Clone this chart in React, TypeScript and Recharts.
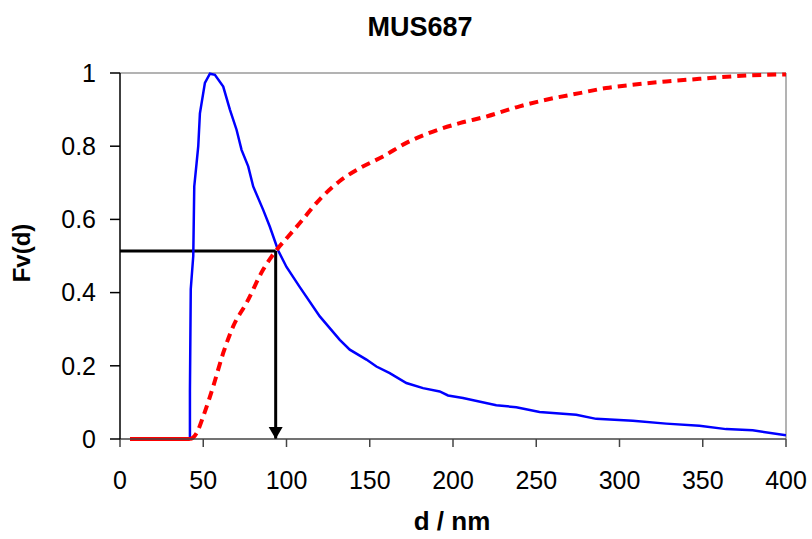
import { ComposedChart, Line, XAxis, YAxis, ReferenceLine } from "recharts";

// blue curve: normalised distribution
const BLUE_D = [42, 42, 42.5, 44, 44.6, 46, 47, 48, 51, 54, 57, 62, 66, 70, 73, 77, 80, 86, 90, 95, 100, 108, 120, 132, 138, 148, 154, 162, 172, 182, 192, 197, 206, 226, 238, 252, 274, 286, 308, 328, 348, 364, 380, 400];
const BLUE_F = [0, 0.13, 0.41, 0.5, 0.69, 0.754, 0.8, 0.89, 0.973, 0.998, 0.995, 0.963, 0.9, 0.845, 0.79, 0.745, 0.69, 0.626, 0.58, 0.515, 0.47, 0.415, 0.335, 0.271, 0.244, 0.217, 0.198, 0.18, 0.153, 0.139, 0.13, 0.119, 0.112, 0.092, 0.087, 0.074, 0.066, 0.055, 0.05, 0.042, 0.036, 0.027, 0.024, 0.01];

// red curve: cumulative Fv(d)
const RED_FLAT_D = [6, 42];
const RED_FLAT_F = [0, 0];
const RED_D = [42, 44, 46, 50, 56, 62, 68, 76, 86, 95, 100, 108, 120, 132, 144, 158, 172, 188, 204, 220, 240, 256, 276, 292, 308, 328, 348, 368, 388, 400];
const RED_F = [0, 0.004, 0.016, 0.062, 0.144, 0.235, 0.308, 0.372, 0.463, 0.522, 0.548, 0.59, 0.655, 0.705, 0.74, 0.772, 0.809, 0.84, 0.863, 0.881, 0.909, 0.927, 0.945, 0.959, 0.968, 0.977, 0.984, 0.991, 0.995, 0.996];

// median marker
const D50 = 93.5;
const F50 = 0.514;

const X_TICKS = [0, 50, 100, 150, 200, 250, 300, 350, 400];
const Y_TICKS = [0, 0.2, 0.4, 0.6, 0.8, 1];

const zip = (ds: number[], fs: number[]) => ds.map((d, i) => ({ d, v: fs[i] }));

const blue = zip(BLUE_D, BLUE_F);
const redFlat = zip(RED_FLAT_D, RED_FLAT_F);
const red = zip(RED_D, RED_F);
const hLine = zip([0, D50], [F50, F50]);
const vLine = zip([D50, D50], [F50, 0]);

const FONT = "'Liberation Sans', Arial, sans-serif";
const tickStyle = { fontSize: 25, fill: "#000", fontFamily: FONT };

function ArrowHead(props: any) {
  const { cx, cy, index } = props;
  if (index !== 1) return <g key={`ah-${index}`} />;
  return (
    <path
      key={`ah-${index}`}
      d={`M${cx - 7},${cy - 12} L${cx + 7},${cy - 12} L${cx},${cy} Z`}
      fill="#000"
    />
  );
}

export default function App() {
  return (
    <div
      style={{
        position: "absolute",
        left: 0,
        top: 0,
        width: 812,
        height: 539,
        overflow: "hidden",
        background: "#fff",
        fontFamily: FONT,
      }}
    >
      <div
        style={{
          position: "absolute",
          left: 320,
          top: 14,
          width: 200,
          textAlign: "center",
          fontSize: 27,
          lineHeight: "27px",
          fontWeight: 700,
        }}
      >
        MUS687
      </div>
      <ComposedChart
        width={812}
        height={539}
        margin={{ top: 73, right: 26, left: 10, bottom: 0 }}
      >
        <XAxis
          type="number"
          dataKey="d"
          domain={[0, 400]}
          ticks={X_TICKS}
          allowDataOverflow
          height={100}
          tickSize={8}
          tickMargin={24}
          tick={tickStyle}
          axisLine={{ stroke: "#444", strokeWidth: 1.5 }}
          tickLine={{ stroke: "#444", strokeWidth: 1.5 }}
        />
        <YAxis
          type="number"
          dataKey="v"
          domain={[0, 1]}
          ticks={Y_TICKS}
          width={110}
          tickSize={10}
          tickMargin={14}
          tick={tickStyle}
          axisLine={{ stroke: "#000", strokeWidth: 1.5 }}
          tickLine={{ stroke: "#000", strokeWidth: 1.5 }}
        />
        <ReferenceLine y={1} stroke="#9a9a9a" strokeWidth={1.5} />
        <ReferenceLine x={400} stroke="#9a9a9a" strokeWidth={1.5} />
        <Line
          data={hLine}
          dataKey="v"
          stroke="#000"
          strokeWidth={3}
          dot={false}
          isAnimationActive={false}
        />
        <Line
          data={vLine}
          dataKey="v"
          stroke="#000"
          strokeWidth={3}
          dot={ArrowHead}
          isAnimationActive={false}
        />
        <Line
          data={blue}
          dataKey="v"
          type="linear"
          stroke="#0000ff"
          strokeWidth={2.5}
          dot={false}
          isAnimationActive={false}
        />
        <Line
          data={redFlat}
          dataKey="v"
          stroke="#ff0000"
          strokeWidth={4}
          dot={false}
          isAnimationActive={false}
        />
        <Line
          data={red}
          dataKey="v"
          type="monotone"
          stroke="#ff0000"
          strokeWidth={4}
          strokeDasharray="9 6"
          dot={false}
          isAnimationActive={false}
        />
      </ComposedChart>
      <div
        style={{
          position: "absolute",
          left: -78,
          top: 241,
          width: 200,
          height: 24,
          lineHeight: "24px",
          textAlign: "center",
          fontSize: 24,
          fontWeight: 700,
          transform: "rotate(-90deg)",
        }}
      >
        Fv(d)
      </div>
      <div
        style={{
          position: "absolute",
          left: 352,
          top: 508,
          width: 200,
          textAlign: "center",
          fontSize: 26,
          lineHeight: "26px",
          fontWeight: 700,
        }}
      >
        d / nm
      </div>
    </div>
  );
}
